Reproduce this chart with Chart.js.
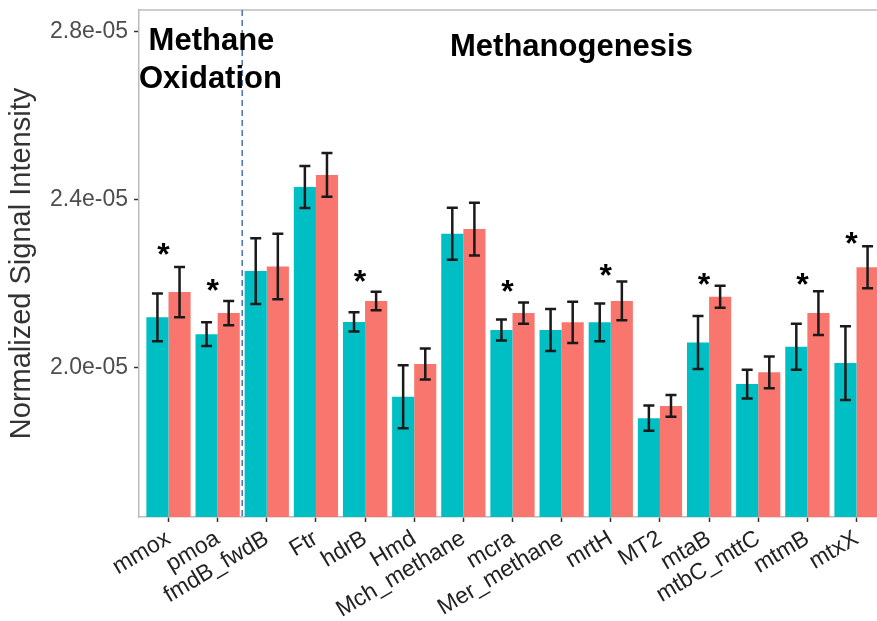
<!DOCTYPE html>
<html>
<head>
<meta charset="utf-8">
<script src="https://cdn.jsdelivr.net/npm/chart.js@4.4.1/dist/chart.umd.min.js"></script>
<style>
  html, body { margin: 0; padding: 0; background: #fff; overflow: hidden; }
  #wrap { position: absolute; left: 0; top: 0; width: 890px; height: 621px; }
</style>
</head>
<body>
<div id="wrap"><canvas id="chart" width="890" height="621"></canvas></div>
<script>
const genes = ["mmox", "pmoa", "fmdB_fwdB", "Ftr", "hdrB", "Hmd", "Mch_methane", "mcra",
  "Mer_methane", "mrtH", "MT2", "mtaB", "mtbC_mttC", "mtmB", "mtxX"];
const groupNames = ["Group 1", "Group 2"];

// means and error half-widths
const tealMean = [2.119e-5, 2.079e-5, 2.229e-5, 2.429e-5, 2.108e-5, 1.930e-5, 2.318e-5, 2.089e-5,
  2.089e-5, 2.107e-5, 1.879e-5, 2.059e-5, 1.960e-5, 2.049e-5, 2.010e-5];
const tealErr = [0.057e-5, 0.028e-5, 0.078e-5, 0.050e-5, 0.023e-5, 0.075e-5, 0.062e-5, 0.025e-5,
  0.050e-5, 0.045e-5, 0.030e-5, 0.063e-5, 0.034e-5, 0.055e-5, 0.088e-5];
const redMean = [2.179e-5, 2.129e-5, 2.240e-5, 2.458e-5, 2.158e-5, 2.008e-5, 2.329e-5, 2.129e-5,
  2.107e-5, 2.158e-5, 1.908e-5, 2.168e-5, 1.988e-5, 2.129e-5, 2.238e-5];
const redErr = [0.060e-5, 0.029e-5, 0.078e-5, 0.052e-5, 0.022e-5, 0.037e-5, 0.063e-5, 0.025e-5,
  0.049e-5, 0.046e-5, 0.026e-5, 0.026e-5, 0.038e-5, 0.052e-5, 0.050e-5];
// height of the significance star (null = not significant)
const starAt = [2.286e-5, 2.201e-5, null, null, 2.222e-5, null, null, 2.198e-5,
  null, 2.236e-5, null, 2.215e-5, null, 2.215e-5, 2.313e-5];

const yTicks = [2.0e-5, 2.4e-5, 2.8e-5];
const yMin = 1.6436e-5;
const yMax = 2.8507e-5;

const groupSplit = 1.5; // dashed line between the two pathways
const notes = [
  { text: "Methane", x: 0.874, y: 2.755e-5 },
  { text: "Oxidation", x: 0.854, y: 2.665e-5 },
  { text: "Methanogenesis", x: 8.2, y: 2.741e-5 },
];

const FONT = "'Liberation Sans', Arial, sans-serif";

function fmtSci(v) {
  const [m, e] = Number(v).toExponential(1).split("e");
  const n = parseInt(e, 10);
  return m + "e" + (n < 0 ? "-" : "+") + String(Math.abs(n)).padStart(2, "0");
}

const overlay = {
  id: "overlay",
  afterDatasetsDraw(chart) {
    const ctx = chart.ctx;
    const xs = chart.scales.x, ys = chart.scales.y;
    const area = chart.chartArea;

    // top/right border of the panel
    ctx.save();
    ctx.strokeStyle = "#bdbdbd";
    ctx.lineWidth = 1.5;
    ctx.beginPath();
    ctx.moveTo(area.left, area.top);
    ctx.lineTo(area.right, area.top);
    ctx.lineTo(area.right, area.bottom);
    ctx.stroke();

    // dashed separator
    const sx = xs.getPixelForValue(groupSplit);
    ctx.strokeStyle = "#4a6fbf";
    ctx.lineWidth = 1.5;
    ctx.setLineDash([6, 4]);
    ctx.beginPath();
    ctx.moveTo(sx, area.top);
    ctx.lineTo(sx, area.bottom);
    ctx.stroke();
    ctx.setLineDash([]);

    // error bars
    const errs = [tealErr, redErr];
    const means = [tealMean, redMean];
    ctx.strokeStyle = "#1a1a1a";
    ctx.lineWidth = 2.5;
    chart.data.datasets.forEach((ds, d) => {
      const meta = chart.getDatasetMeta(d);
      meta.data.forEach((bar, i) => {
        const hi = ys.getPixelForValue(means[d][i] + errs[d][i]);
        const lo = ys.getPixelForValue(means[d][i] - errs[d][i]);
        const cap = 5.5;
        ctx.beginPath();
        ctx.moveTo(bar.x, hi); ctx.lineTo(bar.x, lo);
        ctx.moveTo(bar.x - cap, hi); ctx.lineTo(bar.x + cap, hi);
        ctx.moveTo(bar.x - cap, lo); ctx.lineTo(bar.x + cap, lo);
        ctx.stroke();
      });
    });

    // stars
    ctx.fillStyle = "#000";
    ctx.font = "bold 32px " + FONT;
    ctx.textAlign = "center";
    ctx.textBaseline = "alphabetic";
    starAt.forEach((v, i) => {
      if (v == null) return;
      ctx.fillText("*", xs.getPixelForValue(i) - 5, ys.getPixelForValue(v) + 18);
    });

    // pathway labels
    ctx.font = "bold 31px " + FONT;
    notes.forEach((n) => {
      ctx.fillText(n.text, xs.getPixelForValue(n.x), ys.getPixelForValue(n.y));
    });
    ctx.restore();
  },
};

const axisGrid = {
  display: true,
  offset: false,
  drawOnChartArea: false,
  drawTicks: true,
  tickLength: 5,
  tickColor: "#333",
  tickWidth: 1.5,
};

new Chart(document.getElementById("chart"), {
  type: "bar",
  data: {
    datasets: [
      {
        label: groupNames[0],
        data: genes.map((g, i) => ({ x: i, y: tealMean[i] })),
        backgroundColor: "#00BFC4",
      },
      {
        label: groupNames[1],
        data: genes.map((g, i) => ({ x: i, y: redMean[i] })),
        backgroundColor: "#F8766D",
      },
    ],
  },
  options: {
    responsive: false,
    animation: false,
    layout: { padding: { top: 10, right: 4, left: 0, bottom: 0 } },
    datasets: { bar: { categoryPercentage: 0.9, barPercentage: 1.0 } },
    plugins: { legend: { display: false }, tooltip: { enabled: false } },
    scales: {
      x: {
        type: "linear",
        min: -0.6,
        max: 14.6,
        offset: false,
        afterBuildTicks: (s) => { s.ticks = genes.map((g, i) => ({ value: i })); },
        afterFit: (s) => { s.height = 104; s.paddingLeft = 0; s.paddingRight = 0; },
        ticks: {
          autoSkip: false,
          minRotation: 31,
          maxRotation: 31,
          padding: 3,
          color: "#222",
          font: { family: FONT, size: 23 },
          callback: (v) => genes[v],
        },
        grid: axisGrid,
        border: { display: true, color: "#bdbdbd", width: 1.5 },
      },
      y: {
        min: yMin,
        max: yMax,
        afterBuildTicks: (s) => { s.ticks = yTicks.map((v) => ({ value: v })); },
        afterFit: (s) => { s.width = 139; s.paddingTop = 0; s.paddingBottom = 0; },
        ticks: {
          callback: fmtSci,
          color: "#4d4d4d",
          padding: 6,
          font: { family: FONT, size: 23 },
        },
        grid: axisGrid,
        border: { display: true, color: "#bdbdbd", width: 1.5 },
        title: {
          display: true,
          text: "Normalized Signal Intensity",
          color: "#333",
          font: { family: FONT, size: 29 },
          padding: { top: 5, bottom: 0 },
        },
      },
    },
  },
  plugins: [overlay],
});
</script>
</body>
</html>
